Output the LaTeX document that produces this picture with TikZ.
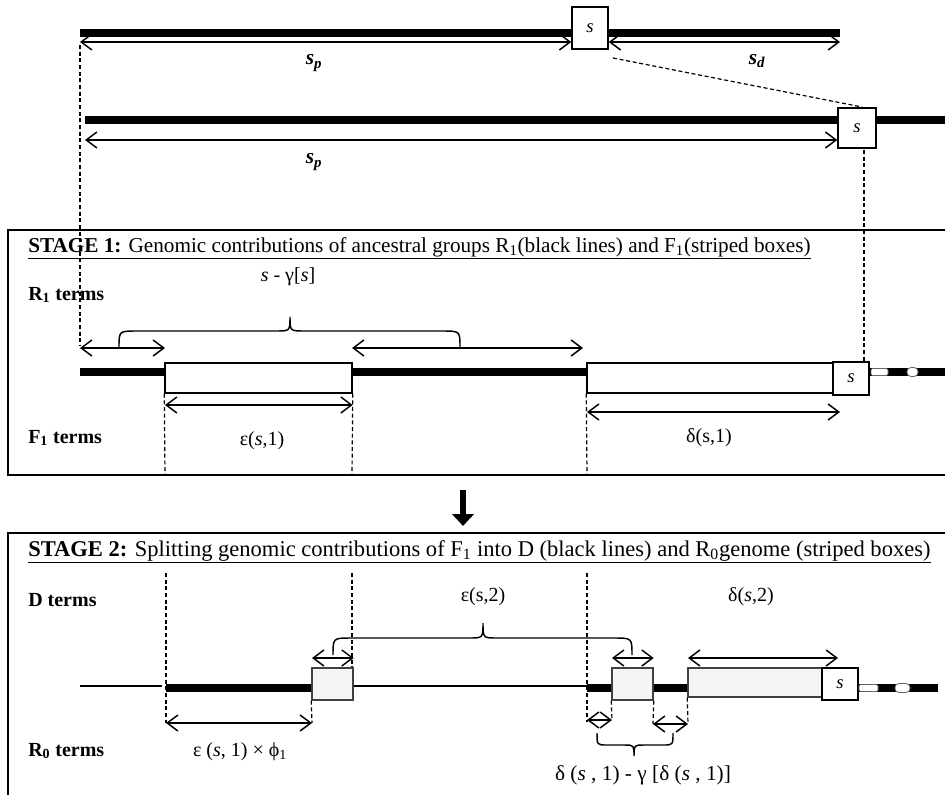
\documentclass[tikz,border=0pt]{standalone}
\usepackage{fontspec}
\setmainfont{Liberation Serif}
\usetikzlibrary{arrows.meta}
\begin{document}
\begin{tikzpicture}[x=0.75pt,y=-0.75pt,
  track/.style={line width=5.5pt},
  thintrack/.style={line width=1.1pt},
  dim/.style={line width=1.1pt,{Straight Barb[length=8pt,width=12pt]}-{Straight Barb[length=8pt,width=12pt]}},
  guide/.style={line width=0.9pt,dash pattern=on 3pt off 2pt},
  frame/.style={line width=1.5pt},
  sbox/.style={draw,line width=1.1pt,fill=white,inner sep=0pt,font=\fontsize{14}{14}\selectfont\itshape},
  fbox/.style={draw,line width=1.1pt,fill=white,inner sep=0pt},
  rbox/.style={draw=black!75,line width=1.1pt,fill=black!4,inner sep=0pt},
  lab/.style={font=\fontsize{15}{18}\selectfont,inner sep=0pt},
  head/.style={inner sep=0pt,anchor=base west},
  splab/.style={font=\fontsize{16}{18}\selectfont\bfseries\itshape,inner sep=0pt},
  terms/.style={font=\fontsize{15}{18}\selectfont\bfseries,anchor=west,inner sep=0pt},
  brace/.style={line width=1.1pt},
  seg/.style={draw=black!60,line width=0.6pt,fill=white},
]
\useasboundingbox (0,0) rectangle (945,795);
\fill[white] (0,0) rectangle (945,795);

% ---------------- top section ----------------
\draw[track] (80,33) -- (840,33);
\node[sbox,minimum width=27pt,minimum height=31.5pt] (s1) at (590,28) {s};
\coordinate (p1) at (80,42);
\coordinate (d1) at (840,42);
\draw[dim] (p1) -- (p1 -| s1.west);
\draw[dim] (d1 -| s1.east) -- (d1);
\node[splab] (sp1) at (314,63) {s\textsubscript{p}};
\node[splab] (sd1) at (757,61) {s\textsubscript{d}};

\draw[track] (85,120) -- (945,120);
\node[sbox,minimum width=28.5pt,minimum height=30pt] (s2) at (857,128) {s};
\coordinate (p2) at (85,140);
\draw[dim] (p2) -- (p2 -| s2.west);
\node[splab] (sp2) at (314,162) {s\textsubscript{p}};

\coordinate (dg1) at (613,58);
\coordinate (dg2) at (862,107);
\draw[guide] (dg1) -- (dg2);

% ---------------- stage 1 ----------------
\draw[frame] (945,230) -- (8,230) -- (8,475) -- (945,475);
\node[head,font=\fontsize{15.9}{19}\selectfont] (h1) at (28,252) {\underline{\textbf{STAGE 1:} Genomic contributions of ancestral groups R\textsubscript{1}(black lines) and F\textsubscript{1}(striped boxes)}};
\node[terms] (r1) at (28,295) {R\textsubscript{1} terms};
\node[terms] (f1) at (28,438) {F\textsubscript{1} terms};

\draw[guide] (80,45) -- (80,346);
\draw[guide] (864,150) -- (864,362);

\node[lab] (gs) at (288,277) {\textit{s} - γ[\textit{s}]};
\draw[brace] (119,347) .. controls (119,331) .. (137,331) -- (276,331) .. controls (290,331) .. (290,317)
  .. controls (290,331) .. (304,331) -- (442,331) .. controls (460,331) .. (460,347);

\draw[track] (80,372) -- (945,372);
\node[fbox,minimum width=140.25pt,minimum height=22.5pt] (e1) at (258.5,378) {};
\node[fbox,minimum width=184.5pt,minimum height=22.5pt] (dl1) at (710,378) {};
\node[sbox,minimum width=27pt,minimum height=24.75pt] (s3) at (851,378.5) {s};
\draw[seg,rounded corners=1pt] (871,368.5) rectangle (888,375.5);
\draw[seg,rounded corners=3pt] (907,367.5) rectangle (918,376.5);

\coordinate (a1) at (80,348);
\coordinate (a2) at (165,348);
\coordinate (a3) at (352,348);
\coordinate (a4) at (583,348);
\draw[dim] (a1) -- (a2);
\draw[dim] (a3) -- (a4);

\coordinate (ea) at (165,405);
\draw[dim] (ea) -- (ea -| e1.east);
\coordinate (da) at (587,412);
\coordinate (db) at (840,412);
\draw[dim] (da) -- (db);

\draw[guide] (e1.south west) -- (165,475);
\draw[guide] (e1.south east) -- (352,475);
\draw[guide] (dl1.south west) -- (587,475);

\node[lab] (eps1) at (262,441) {ε(\textit{s},1)};
\node[lab] (del1) at (709,438) {δ(s,1)};

% arrow between stages
\coordinate (ar1) at (463,490);
\coordinate (ar2) at (463,526);
\draw[line width=4pt,-{Triangle[length=9pt,width=16pt]}] (ar1) -- (ar2);

% ---------------- stage 2 ----------------
\draw[frame] (945,533) -- (8,533) -- (8,795);
\node[head,font=\fontsize{16.9}{19}\selectfont] (h2) at (28,556) {\underline{\textbf{STAGE 2:} Splitting genomic contributions of F\textsubscript{1} into D (black lines) and R\textsubscript{0}genome (striped boxes)}};
\node[terms] (dt) at (28,600) {D terms};
\node[terms] (r0) at (28,751) {R\textsubscript{0} terms};

\draw[guide] (166,573) -- (166,723);
\draw[guide] (352,573) -- (352,668);
\draw[guide] (587,573) -- (587,722);

\draw[thintrack] (80,686) -- (162,686);
\draw[track] (166,688) -- (312,688);
\draw[thintrack] (353,686) -- (587,686);
\draw[track] (587,688) -- (938,688);

\node[rbox,minimum width=30.75pt,minimum height=24pt] (b1) at (332.5,684) {};
\node[rbox,minimum width=30.75pt,minimum height=24pt] (b2) at (632.5,684) {};
\node[rbox,minimum width=100.5pt,minimum height=21.75pt] (b3) at (755,682.5) {};
\node[sbox,minimum width=27pt,minimum height=24pt] (s4) at (840,684) {s};
\draw[seg,rounded corners=1pt] (859,684.5) rectangle (878,691.5);
\draw[seg,rounded corners=3pt] (895,683.5) rectangle (910,692.5);

\coordinate (u1) at (312,658);
\coordinate (u2) at (612,658);
\coordinate (u3) at (688,658);
\coordinate (u4) at (838,658);
\draw[dim] (u1) -- (u1 -| b1.east);
\draw[dim] (u2) -- (u2 -| b2.east);
\draw[dim] (u3) -- (u4);

\node[lab] (eps2) at (483,597) {ε(s,2)};
\node[lab] (del2) at (751,597) {δ(\textit{s},2)};
\draw[brace] (333,655) .. controls (333,638) .. (351,638) -- (469,638) .. controls (483,638) .. (483,623)
  .. controls (483,638) .. (497,638) -- (614,638) .. controls (632,638) .. (632,655);

\draw[guide] (b1.south west) -- (312,723);
\draw[guide] (b2.south west) -- (612,720);
\draw[guide] (b2.south east) -- (653,724);
\draw[guide] (b3.south west) -- (688,724);

\coordinate (l1) at (166,723);
\coordinate (l2) at (312,723);
\draw[dim] (l1) -- (l2);
\coordinate (l3) at (587,720);
\coordinate (l4) at (612,720);
\draw[dim] (l3) -- (l4);
\coordinate (l5) at (653,724);
\coordinate (l6) at (688,724);
\draw[dim] (l5) -- (l6);

\draw[brace] (597,733) .. controls (597,745) .. (607,745) -- (624,745) .. controls (634,745) .. (634,756)
  .. controls (634,745) .. (644,745) -- (663,745) .. controls (673,745) .. (673,733);

\node[lab] (ephi) at (240,752) {ε (\textit{s}, 1) × ϕ\textsubscript{1}};
\node[lab,font=\fontsize{16}{18}\selectfont] (dgam) at (643,775) {δ (\textit{s} , 1) - γ [δ (\textit{s} , 1)]};
\end{tikzpicture}
\end{document}
